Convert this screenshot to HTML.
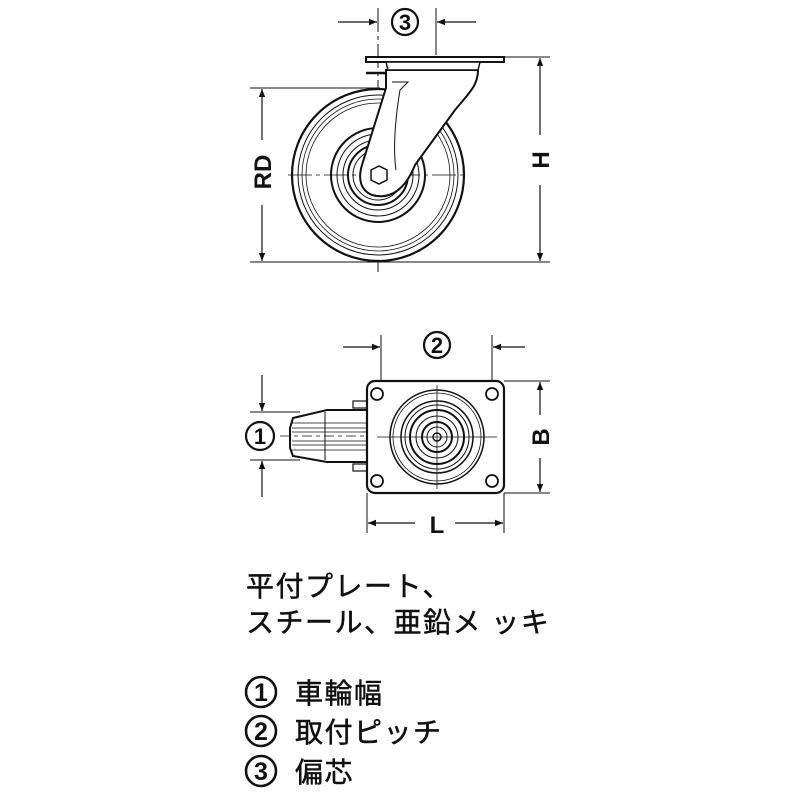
<!DOCTYPE html>
<html><head><meta charset="utf-8"><style>
html,body{margin:0;padding:0;background:#fff;}
svg{display:block;}
.t{font-family:"Liberation Sans","Noto Sans CJK JP",sans-serif;fill:#111;}
</style></head><body>
<svg width="800" height="800" viewBox="0 0 800 800" xmlns="http://www.w3.org/2000/svg">
<defs>
<marker id="a" viewBox="0 0 10 10" refX="10" refY="5" markerWidth="12" markerHeight="8" orient="auto" markerUnits="userSpaceOnUse"><path d="M0,1 L10,5 L0,9 z" fill="#111"/></marker>
</defs>
<g stroke="#111" fill="none">
<line x1="378" y1="8" x2="378" y2="272" stroke-width="1" stroke-dasharray="24,4,4,4"/>
<line x1="436" y1="8" x2="436" y2="55" stroke-width="1"/>
<line x1="338" y1="22" x2="377" y2="22" stroke-width="1.2" marker-end="url(#a)"/>
<line x1="476" y1="22" x2="437" y2="22" stroke-width="1.2" marker-end="url(#a)"/>
<circle cx="405" cy="22" r="13" stroke-width="2.2"/>
<line x1="250" y1="88" x2="380" y2="88" stroke-width="1"/>
<line x1="250" y1="262" x2="550" y2="262" stroke-width="1"/>
<line x1="262" y1="140" x2="262" y2="89" stroke-width="1.2" marker-end="url(#a)"/>
<line x1="262" y1="205" x2="262" y2="261" stroke-width="1.2" marker-end="url(#a)"/>
<line x1="504" y1="57" x2="550" y2="57" stroke-width="1"/>
<line x1="540" y1="135" x2="540" y2="58" stroke-width="1.2" marker-end="url(#a)"/>
<line x1="540" y1="185" x2="540" y2="261" stroke-width="1.2" marker-end="url(#a)"/>
<circle cx="378" cy="175" r="86" stroke-width="2.2" fill="#fff"/>
<circle cx="378" cy="175" r="80" stroke-width="1"/>
<circle cx="378" cy="175" r="76" stroke-width="0.8"/>
<circle cx="378" cy="175" r="72" stroke-width="0.8"/>
<circle cx="378" cy="175" r="47" stroke-width="2"/>
<circle cx="378" cy="175" r="41" stroke-width="1"/>
<circle cx="378" cy="175" r="35" stroke-width="1"/>
<circle cx="378" cy="175" r="30" stroke-width="2"/>
<circle cx="378" cy="175" r="25" stroke-width="1"/>
<line x1="288" y1="175" x2="468" y2="175" stroke-width="0.8" stroke-dasharray="24,4,4,4"/>
<path d="M386,70 L478,70 C478,85 470,92 455,110 L415,165 C405,190 390,200 372,195 C360,190 358,178 362,165 L386,88 Z" fill="#fff" stroke-width="2"/>
<path d="M392,82 L408,82 L400,90" stroke-width="1"/>
<path d="M400,90 C395,120 393,150 396,170" stroke-width="1"/>
<polygon points="371,170 379,166 387,170 387,180 379,184 371,180" fill="#fff" stroke-width="1.5"/>
<rect x="366" y="57" width="138" height="5" fill="#fff" stroke-width="2"/>
<path d="M386,62 L480,62 L478,70 L388,70 Z" fill="#fff" stroke-width="1.5"/>
<line x1="366" y1="73" x2="386" y2="73" stroke-width="2.5"/>

<line x1="381" y1="335" x2="381" y2="392" stroke-width="1"/>
<line x1="492" y1="335" x2="492" y2="392" stroke-width="1"/>
<line x1="343" y1="347" x2="380" y2="347" stroke-width="1.2" marker-end="url(#a)"/>
<line x1="525" y1="347" x2="493" y2="347" stroke-width="1.2" marker-end="url(#a)"/>
<circle cx="437" cy="345" r="13" stroke-width="2.2"/>
<line x1="250" y1="412" x2="300" y2="412" stroke-width="1"/>
<line x1="250" y1="460" x2="300" y2="460" stroke-width="1"/>
<line x1="262" y1="375" x2="262" y2="411" stroke-width="1.2" marker-end="url(#a)"/>
<line x1="262" y1="497" x2="262" y2="461" stroke-width="1.2" marker-end="url(#a)"/>
<circle cx="260" cy="436" r="14" stroke-width="2.2"/>
<line x1="504" y1="381" x2="550" y2="381" stroke-width="1"/>
<line x1="504" y1="493" x2="550" y2="493" stroke-width="1"/>
<line x1="540" y1="415" x2="540" y2="382" stroke-width="1.2" marker-end="url(#a)"/>
<line x1="540" y1="458" x2="540" y2="492" stroke-width="1.2" marker-end="url(#a)"/>
<line x1="367" y1="493" x2="367" y2="533" stroke-width="1"/>
<line x1="504" y1="493" x2="504" y2="533" stroke-width="1"/>
<line x1="415" y1="523" x2="368" y2="523" stroke-width="1.2" marker-end="url(#a)"/>
<line x1="455" y1="523" x2="503" y2="523" stroke-width="1.2" marker-end="url(#a)"/>
<path d="M367,410 L327,410 L293,418 L290,428 L290,448 L293,456 L327,462 L367,462 Z" fill="#fff" stroke-width="2"/>
<line x1="325" y1="412" x2="325" y2="460" stroke-width="1"/>
<g stroke-width="0.8">
<line x1="292" y1="423" x2="367" y2="423"/><line x1="292" y1="428" x2="367" y2="428"/>
<line x1="292" y1="432" x2="367" y2="432"/><line x1="292" y1="441" x2="367" y2="441"/>
<line x1="292" y1="445" x2="367" y2="445"/><line x1="292" y1="450" x2="367" y2="450"/>
</g>
<line x1="280" y1="436" x2="367" y2="436" stroke-width="0.8" stroke-dasharray="10,4,4,4"/>
<rect x="353" y="401" width="14" height="7" stroke-width="1.2"/>
<rect x="353" y="464" width="14" height="7" stroke-width="1.2"/>
<rect x="367" y="381" width="137" height="112" rx="8" fill="#fff" stroke-width="2.2"/>
<circle cx="377" cy="394" r="6" stroke-width="1.8"/>
<circle cx="492" cy="394" r="6" stroke-width="1.8"/>
<circle cx="377" cy="481" r="6" stroke-width="1.8"/>
<circle cx="492" cy="481" r="6" stroke-width="1.8"/>
<circle cx="437" cy="437" r="47" stroke-width="1.5"/>
<circle cx="437" cy="437" r="44" stroke-width="0.8"/>
<circle cx="437" cy="437" r="36" stroke-width="1.5"/>
<circle cx="437" cy="437" r="32" stroke-width="1"/>
<circle cx="437" cy="437" r="27" stroke-width="2"/>
<circle cx="437" cy="437" r="21" stroke-width="1"/>
<circle cx="437" cy="437" r="15" stroke-width="2"/>
<circle cx="437" cy="437" r="10" stroke-width="1"/>
<circle cx="437" cy="437" r="4" stroke-width="1.5"/>
<line x1="377" y1="437" x2="497" y2="437" stroke-width="0.8"/>
<line x1="437" y1="385" x2="437" y2="489" stroke-width="0.8"/>
<circle cx="261" cy="692" r="15" stroke-width="2.6"/>
<circle cx="261" cy="731" r="15" stroke-width="2.6"/>
<circle cx="261" cy="771" r="15" stroke-width="2.6"/>
</g>
<g class="t" font-weight="bold" text-anchor="middle">
<text x="405" y="30" font-size="22">3</text>
<text x="437" y="353" font-size="22">2</text>
<text x="260" y="444" font-size="22">1</text>
<text x="261" y="701" font-size="25">1</text>
<text x="261" y="740" font-size="25">2</text>
<text x="261" y="780" font-size="25">3</text>
<text transform="translate(271,172) rotate(-90)" font-size="24">RD</text>
<text transform="translate(549,160) rotate(-90)" font-size="24">H</text>
<text transform="translate(549,437) rotate(-90)" font-size="24">B</text>
<text x="437" y="533" font-size="24">L</text>
</g>
<g class="t" font-size="28" stroke="#111" stroke-width="0.5" letter-spacing="1.5">
<text x="246" y="596">平付プレート、</text>
<text x="246" y="632">スチール、亜鉛メ ッキ</text>
<text x="295" y="703">車輪幅</text>
<text x="295" y="742">取付ピッチ</text>
<text x="295" y="782">偏芯</text>
</g>
</svg>
</body></html>
